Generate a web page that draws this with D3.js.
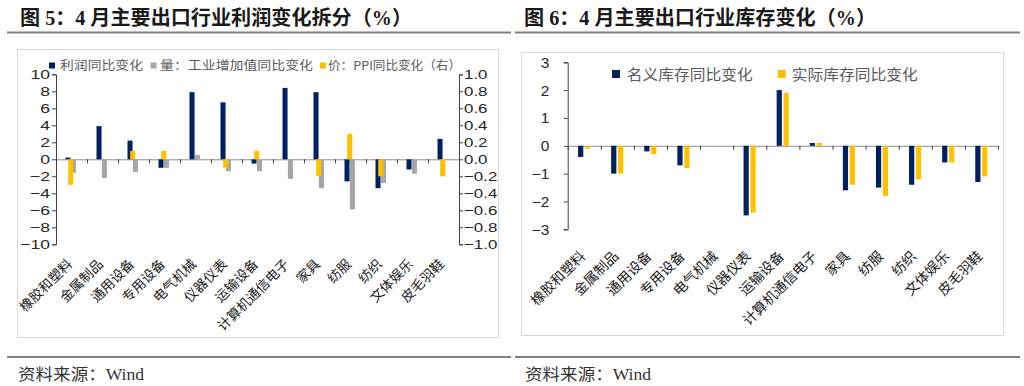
<!DOCTYPE html>
<html><head><meta charset="utf-8">
<script src="https://cdn.jsdelivr.net/npm/d3@7"></script>
<style>body{margin:0;background:#fff}svg{display:block}</style>
</head><body>
<svg id="c" width="1024" height="386"></svg>
<script>
// ---------- data ----------
const categories = ["橡胶和塑料","金属制品","通用设备","专用设备","电气机械","仪器仪表","运输设备","计算机通信电子","家具","纺服","纺织","文体娱乐","皮毛羽鞋"];
const profitYoY  = [0.2, 3.9, 2.2, -1.0, 7.9, 6.7, -0.5, 8.4, 7.9, -2.6, -3.4, -1.2, 2.4];
const volumeYoY  = [-1.6, -2.2, -1.5, -1.0, 0.5, -1.4, -1.4, -2.3, -3.4, -5.9, -2.8, -1.7, 0];
const priceYoY   = [-0.3, 0, 0.1, 0.1, 0, -0.1, 0.1, 0, -0.2, 0.3, -0.2, 0, -0.2];
const nominalInv = [-0.4, -1.0, -0.2, -0.7, 0, -2.5, 2.0, 0.1, -1.6, -1.5, -1.4, -0.6, -1.3];
const realInv    = [-0.1, -1.0, -0.3, -0.8, 0, -2.4, 1.9, 0.1, -1.4, -1.8, -1.2, -0.6, -1.1];
const leftTicks  = [-10,-8,-6,-4,-2,0,2,4,6,8,10];
const rightTicks = [-1.0,-0.8,-0.6,-0.4,-0.2,0,0.2,0.4,0.6,0.8,1.0];
const invTicks   = [-3,-2,-1,0,1,2,3];
const legend5 = ["利润同比变化","量：工业增加值同比变化","价：PPI同比变化（右）"];
const legend6 = ["名义库存同比变化","实际库存同比变化"];
const title5 = "图 5：4 月主要出口行业利润变化拆分（%）";
const title6 = "图 6：4 月主要出口行业库存变化（%）";
const sourceText = "资料来源：Wind";

// ---------- style ----------
const NAVY = "#002060", GREY = "#A6A6A6", YELLOW = "#FFC000";
const CJK = "'Noto Sans CJK SC', sans-serif";
const NUM = "'Liberation Sans', Arial, sans-serif";
const svg = d3.select("#c");

function stretchText(sel, x, y, len, size, family, color, weight) {
  return sel.append("text").attr("x", x).attr("y", y)
    .attr("textLength", len).attr("lengthAdjust", "spacingAndGlyphs")
    .style("font-family", family).style("font-size", size + "px")
    .style("font-weight", weight || 400).attr("fill", color);
}

// headers / footers
const TITLE_FONT = "'Liberation Serif', 'Noto Sans CJK SC', serif";
stretchText(svg, 20, 25, 392, 20, TITLE_FONT, "#1a1a1a", 700).text(title5);
stretchText(svg, 524, 25, 352, 20, TITLE_FONT, "#1a1a1a", 700).text(title6);
[[7,511],[515,1020]].forEach(([a,b]) => {
  svg.append("line").attr("x1",a).attr("x2",b).attr("y1",32.5).attr("y2",32.5).attr("stroke","#7f7f7f").attr("stroke-width",2);
  svg.append("line").attr("x1",a).attr("x2",b).attr("y1",357).attr("y2",357).attr("stroke","#7f7f7f").attr("stroke-width",2);
});
stretchText(svg, 18, 380, 126, 16, "'Liberation Serif', 'Noto Sans CJK SC', serif", "#333").text(sourceText);
stretchText(svg, 525, 380, 126, 16, "'Liberation Serif', 'Noto Sans CJK SC', serif", "#333").text(sourceText);

// frames
svg.append("rect").attr("x",17.5).attr("y",49.5).attr("width",481).attr("height",288).attr("fill","none").attr("stroke","#d9d9d9");
svg.append("rect").attr("x",521.5).attr("y",52.5).attr("width",482).attr("height",283).attr("fill","none").attr("stroke","#d9d9d9");

function tickStyle(g, anchor, off, sx, size) {
  g.selectAll(".tick text").attr("x", 0).attr("dy", "0.35em")
    .attr("text-anchor", anchor)
    .attr("transform", `translate(${off},0) scale(${sx},1)`)
    .style("font-family", NUM).style("font-size", size + "px").attr("fill", "#262626");
  g.selectAll(".tick line").attr("stroke", "#404040");
  g.select(".domain").attr("stroke", "#404040");
}

// ================= Chart 5 =================
{
  const x0 = 56, x1 = 459, yT = 74.3, yB = 244.3;
  const x = d3.scaleBand().domain(categories).range([x0, x1]);
  const xb = d3.scaleLinear().domain([0, categories.length]).range([x0, x1]);
  const yL = d3.scaleLinear().domain([-10, 10]).range([yB, yT]);
  const yR = d3.scaleLinear().domain([-1, 1]).range([yB, yT]);
  const bw = x.bandwidth() * 0.163;
  const g = svg.append("g");

  const gl = g.append("g").attr("transform", `translate(${x0},0)`)
    .call(d3.axisLeft(yL).tickValues(leftTicks).tickFormat(d3.format("d")).tickSize(4).tickSizeOuter(4));
  tickStyle(gl, "end", -6, 1.35, 13);
  const gr = g.append("g").attr("transform", `translate(${x1},0)`)
    .call(d3.axisRight(yR).tickValues(rightTicks).tickFormat(d3.format(".1f")).tickSize(4).tickSizeOuter(4));
  tickStyle(gr, "start", 5, 1.3, 13);

  const gz = g.append("g").attr("transform", `translate(0,${yL(0)})`)
    .call(d3.axisBottom(xb).tickValues(d3.range(0, categories.length + 1)).tickFormat("").tickSize(4).tickSizeOuter(0));
  gz.select(".domain").attr("stroke", "#8c8c8c");
  gz.selectAll(".tick line").attr("stroke", "#404040");

  const c = d => x(d) + x.bandwidth() / 2;
  g.selectAll(".p").data(categories).join("rect")
    .attr("x", d => c(d) - 6).attr("width", bw)
    .attr("y", (d,i) => yL(Math.max(0, profitYoY[i])))
    .attr("height", (d,i) => Math.abs(yL(profitYoY[i]) - yL(0))).attr("fill", NAVY);
  g.selectAll(".v").data(categories).join("rect")
    .attr("x", d => c(d) - 0.6).attr("width", bw)
    .attr("y", (d,i) => yL(Math.max(0, volumeYoY[i])))
    .attr("height", (d,i) => Math.abs(yL(volumeYoY[i]) - yL(0))).attr("fill", GREY);
  g.selectAll(".pr").data(categories).join("rect")
    .attr("x", d => c(d) - 3.3).attr("width", bw)
    .attr("y", (d,i) => yR(Math.max(0, priceYoY[i])))
    .attr("height", (d,i) => Math.abs(yR(priceYoY[i]) - yR(0))).attr("fill", YELLOW);

  g.selectAll(".xl").data(categories).join("text")
    .attr("transform", d => `translate(${c(d) + 1.5},265) rotate(-45)`)
    .attr("text-anchor", "end")
    .style("font-family", CJK).style("font-size", "13.5px").attr("fill", "#1a1a1a")
    .text(d => d);

  // legend
  const lg = [[49, 60, 83, NAVY], [150.5, 160, 153, GREY], [320, 328, 133, YELLOW]];
  legend5.forEach((t, i) => {
    const [sx, tx, len, col] = lg[i];
    g.append("rect").attr("x", sx).attr("y", 62.5).attr("width", 6).attr("height", 6).attr("fill", col);
    stretchText(g, tx, 70, len, 12, CJK, "#595959").text(t);
  });
}

// ================= Chart 6 =================
{
  const x0 = 567.7, x1 = 998, yT = 62.3, yB = 229.3;
  const x = d3.scaleBand().domain(categories).range([x0, x1]);
  const xb = d3.scaleLinear().domain([0, categories.length]).range([x0, x1]);
  const y = d3.scaleLinear().domain([-3, 3]).range([yB, yT]);
  const bw = x.bandwidth() * 0.158;
  const g = svg.append("g");

  const gl = g.append("g").attr("transform", `translate(${x0},0)`)
    .call(d3.axisLeft(y).tickValues(invTicks).tickFormat(d3.format("d")).tickSize(4).tickSizeOuter(4));
  tickStyle(gl, "end", -18.5, 1.1, 14);

  const gz = g.append("g").attr("transform", `translate(0,${y(0)})`)
    .call(d3.axisBottom(xb).tickValues(d3.range(0, categories.length + 1)).tickFormat("").tickSize(4).tickSizeOuter(0));
  gz.select(".domain").attr("stroke", "#8c8c8c");
  gz.selectAll(".tick line").attr("stroke", "#404040");

  const c = d => x(d) + x.bandwidth() / 2;
  g.selectAll(".n").data(categories).join("rect")
    .attr("x", d => c(d) - 6.2).attr("width", bw)
    .attr("y", (d,i) => y(Math.max(0, nominalInv[i])))
    .attr("height", (d,i) => Math.abs(y(nominalInv[i]) - y(0))).attr("fill", NAVY);
  g.selectAll(".r").data(categories).join("rect")
    .attr("x", d => c(d) + 0.7).attr("width", bw)
    .attr("y", (d,i) => y(Math.max(0, realInv[i])))
    .attr("height", (d,i) => Math.abs(y(realInv[i]) - y(0))).attr("fill", YELLOW);

  g.selectAll(".xl").data(categories).join("text")
    .attr("transform", d => `translate(${c(d) + 2},257) rotate(-45)`)
    .attr("text-anchor", "end")
    .style("font-family", CJK).style("font-size", "14px").attr("fill", "#1a1a1a")
    .text(d => d);

  const lg = [[612, 626.7, NAVY], [777.7, 791.7, YELLOW]];
  legend6.forEach((t, i) => {
    const [sx, tx, col] = lg[i];
    g.append("rect").attr("x", sx).attr("y", 70).attr("width", 8).attr("height", 8).attr("fill", col);
    stretchText(g, tx, 79.5, 126, 15, CJK, "#595959").text(t);
  });
}
</script>
</body></html>
